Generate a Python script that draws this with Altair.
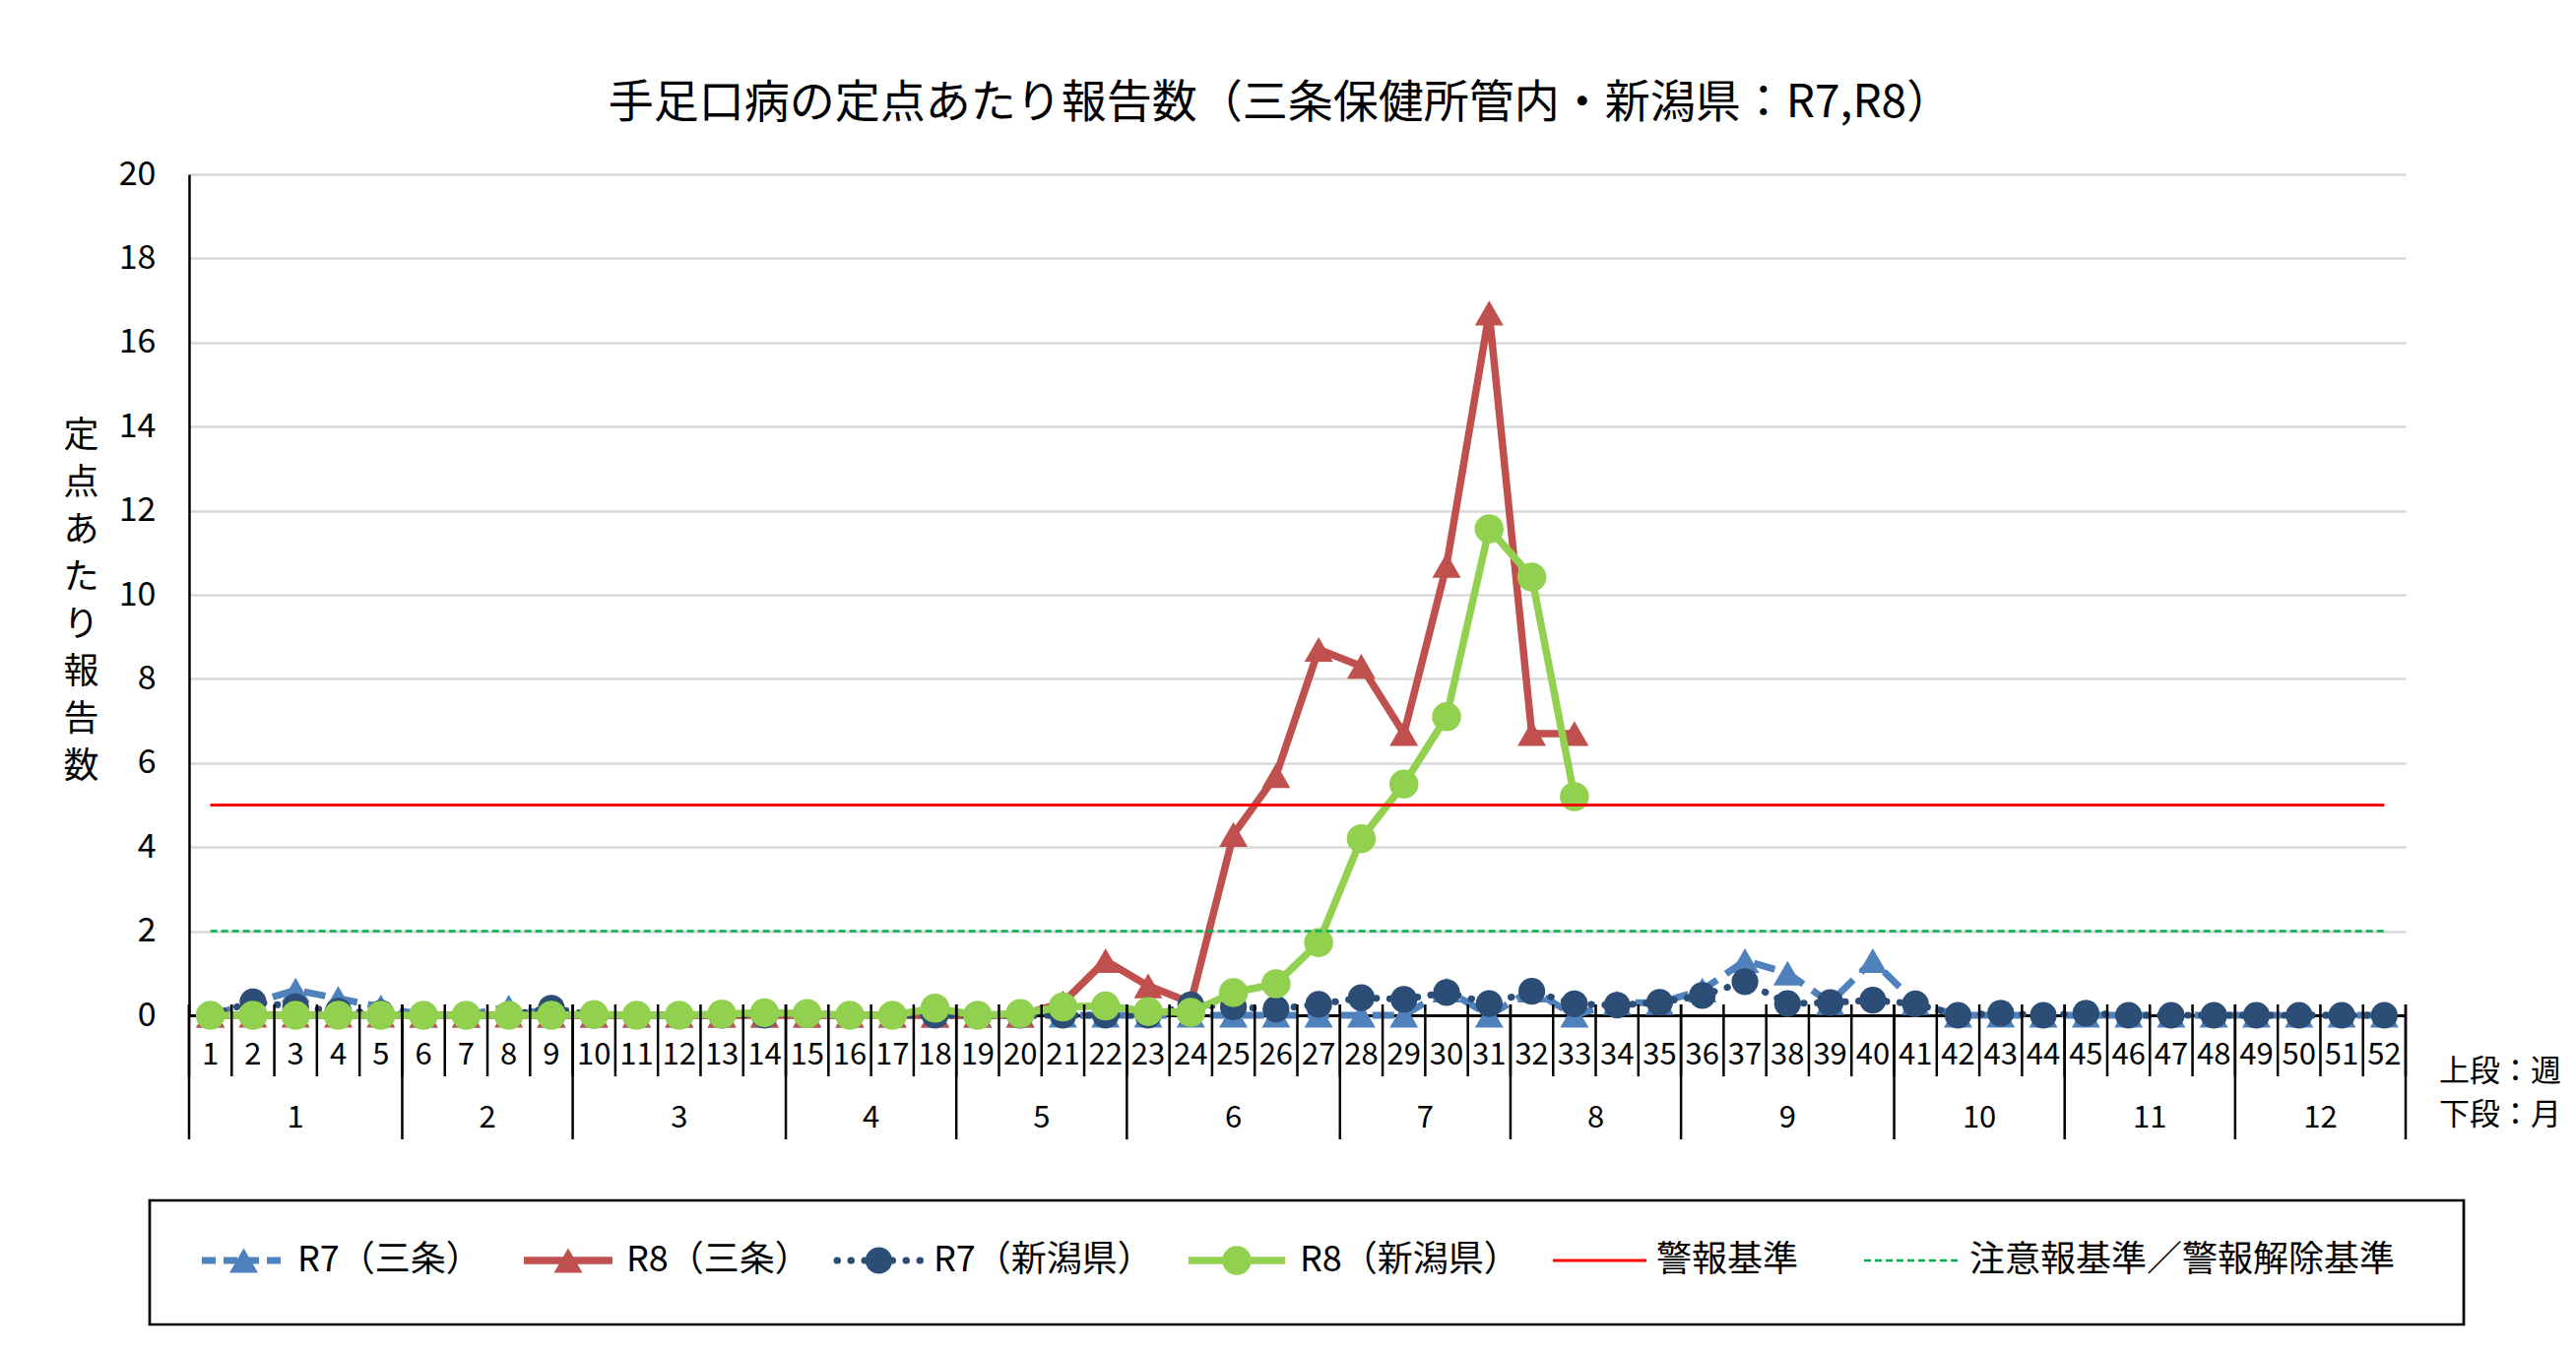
"""
plot.py

Hand, foot and mouth disease: reports per sentinel (Sanjo / Niigata, R7 vs R8).
"""

import pandas as pd
import altair as alt

# ---------------------------------------------------------------------------
# Data
# ---------------------------------------------------------------------------
weeks = list(range(1, 53))
month_labels = [str(m) for m in range(1, 13)]
month_weeks = [5, 4, 5, 4, 4, 5, 4, 4, 5, 4, 4, 4]

r7_sanjo = [0, 0.3, 0.6, 0.4, 0.2, 0, 0, 0.2, 0, 0,
            0, 0, 0, 0, 0, 0, 0, 0, 0, 0,
            0, 0, 0, 0, 0, 0, 0, 0, 0, 0.6,
            0, 0.6, 0, 0.3, 0.3, 0.6, 1.3, 1.0, 0.3, 1.3,
            0.3, 0, 0, 0, 0, 0, 0, 0, 0, 0,
            0, 0]
r8_sanjo = [0, 0, 0, 0, 0, 0, 0, 0, 0, 0,
            0, 0, 0, 0, 0, 0, 0, 0, 0, 0,
            0.3, 1.3, 0.7, 0.3, 4.3, 5.7, 8.7, 8.3, 6.7, 10.7,
            16.7, 6.7, 6.7]
r7_niigata = [0, 0.32, 0.2, 0.1, 0.05, 0, 0, 0, 0.17, 0,
              0, 0, 0, 0, 0.05, 0, 0, 0, 0, 0,
              0, 0, 0, 0.25, 0.2, 0.15, 0.26, 0.42, 0.38, 0.54,
              0.28, 0.57, 0.27, 0.24, 0.31, 0.47, 0.8, 0.28, 0.3, 0.36,
              0.27, 0, 0.05, 0, 0.05, 0, 0, 0, 0, 0,
              0, 0]
r8_niigata = [0, 0, 0, 0, 0, 0, 0, 0, 0, 0.02,
              0, 0, 0.03, 0.06, 0.04, 0, 0, 0.17, 0, 0.04,
              0.2, 0.22, 0.09, 0.07, 0.54, 0.75, 1.73, 4.2, 5.5, 7.1,
              11.57, 10.42, 5.2]
alarm_level = [5] * 52
caution_level = [2] * 52

series_labels = ["R7（三条）", "R8（三条）", "R7（新潟県）", "R8（新潟県）",
                 "警報基準", "注意報基準／警報解除基準"]
title_text = "手足口病の定点あたり報告数（三条保健所管内・新潟県：R7,R8）"
y_title = "定点あたり報告数"
row_labels = ["上段：週", "下段：月"]

# ---------------------------------------------------------------------------
# Layout / style
# ---------------------------------------------------------------------------
FONT = "Noto Sans CJK JP"
PLOT_W, PLOT_H = 2251, 854

C_R7_SANJO = "#4F81BD"
C_R8_SANJO = "#C0504D"
C_R7_NIIGATA = "#2C4D75"
C_R8_NIIGATA = "#92D050"
C_ALARM = "#FF0000"
C_CAUTION = "#00B050"

x_scale = alt.Scale(domain=[0.5, 52.5], nice=False, zero=False)
y_scale = alt.Scale(domain=[0, 20], nice=False)

X = alt.X("week:Q", scale=x_scale,
          axis=alt.Axis(labels=False, ticks=False, grid=False, title=None,
                        domainColor="black", domainWidth=3))
Y = alt.Y("value:Q", scale=y_scale,
          axis=alt.Axis(values=list(range(0, 21, 2)), grid=True,
                        gridColor="#d9d9d9", gridWidth=2.5,
                        domainColor="black", domainWidth=2.5, ticks=False,
                        labelFont=FONT, labelFontSize=34, labelColor="black",
                        labelPadding=34,
                        title=list(y_title), titleAngle=0, titleFont=FONT,
                        titleFontSize=36, titleFontWeight="normal",
                        titleColor="black", titleLineHeight=48,
                        titleAlign="center", titleBaseline="top",
                        titleX=-110, titleY=248))


def series_frame(values):
    return pd.DataFrame({"week": weeks[:len(values)], "value": values})


def build_series(values, colour, width, shape=None, size=0, dash=None, cap="butt"):
    """Line plus markers for one series."""
    df = series_frame(values)
    line_kw = dict(color=colour, strokeWidth=width, strokeCap=cap)
    if dash:
        line_kw["strokeDash"] = dash
    layers = [alt.Chart(df).mark_line(**line_kw).encode(x=X, y=Y)]
    if shape:
        layers.append(
            alt.Chart(df)
            .mark_point(shape=shape, size=size, filled=True, color=colour,
                        opacity=1, strokeWidth=0)
            .encode(x=X, y=Y)
        )
    return layers


# series styles, in the reference's drawing order
styles = [
    dict(values=r7_sanjo, colour=C_R7_SANJO, width=7, shape="triangle-up",
         size=840, dash=[22, 11]),
    dict(values=r8_sanjo, colour=C_R8_SANJO, width=7.5, shape="triangle-up",
         size=840),
    dict(values=r7_niigata, colour=C_R7_NIIGATA, width=7, shape="circle",
         size=740, dash=[0.5, 13.5], cap="round"),
    dict(values=r8_niigata, colour=C_R8_NIIGATA, width=7.5, shape="circle",
         size=870),
    dict(values=alarm_level, colour=C_ALARM, width=3.2),
    dict(values=caution_level, colour=C_CAUTION, width=2.5, dash=[7, 4]),
]

layers = []
for st in styles:
    layers += build_series(**st)

# ---------------------------------------------------------------------------
# Category table under the plot (weeks on top row, months below)
# ---------------------------------------------------------------------------
bounds = [w - 0.5 for w in weeks] + [weeks[-1] + 0.5]
month_bounds = [0.5]
month_centres = []
for n in month_weeks:
    month_centres.append(month_bounds[-1] + n / 2)
    month_bounds.append(month_bounds[-1] + n)

layers.append(
    alt.Chart(pd.DataFrame({"week": bounds}))
    .mark_rule(color="black", strokeWidth=2.5)
    .encode(x=X, y=alt.value(843), y2=alt.value(916))
)
layers.append(
    alt.Chart(pd.DataFrame({"week": month_bounds}))
    .mark_rule(color="black", strokeWidth=2.5)
    .encode(x=X, y=alt.value(843), y2=alt.value(980))
)
layers.append(
    alt.Chart(pd.DataFrame({"week": weeks, "label": [str(w) for w in weeks]}))
    .mark_text(font=FONT, fontSize=31, color="black", baseline="middle")
    .encode(x=X, y=alt.value(895), text="label:N")
)
layers.append(
    alt.Chart(pd.DataFrame({"week": month_centres, "label": month_labels}))
    .mark_text(font=FONT, fontSize=31, color="black", baseline="middle")
    .encode(x=X, y=alt.value(959), text="label:N")
)
for lbl, ypos in zip(row_labels, [912, 956]):
    layers.append(
        alt.Chart(pd.DataFrame({"label": [lbl]}))
        .mark_text(font=FONT, fontSize=31, color="black", align="left",
                   baseline="middle")
        .encode(x=alt.value(2285), y=alt.value(ypos), text="label:N")
    )

# title
layers.append(
    alt.Chart(pd.DataFrame({"label": [title_text]}))
    .mark_text(font=FONT, fontSize=46, color="black", align="center",
               baseline="middle")
    .encode(x=alt.value(1108), y=alt.value(-72), text="label:N")
)

# ---------------------------------------------------------------------------
# Legend box
# ---------------------------------------------------------------------------
LEG_Y = 1103
leg_pos = [(13, 98, 110), (340, 430, 444), (658, 743, 756),
           (1015, 1113, 1128), (1385, 1480, 1490), (1701, 1798, 1808)]

layers.append(
    alt.Chart(pd.DataFrame({"label": ["legend"]}))
    .mark_rect(fill="white", stroke="black", strokeWidth=2.7)
    .encode(x=alt.value(-40), x2=alt.value(2310), y=alt.value(1042),
            y2=alt.value(1168))
)
for st, lbl, (x0, x1, tx) in zip(styles, series_labels, leg_pos):
    one = pd.DataFrame({"label": [lbl]})
    rule_kw = dict(color=st["colour"], strokeWidth=st["width"],
                   strokeCap=st.get("cap", "butt"))
    if st.get("dash"):
        rule_kw["strokeDash"] = st["dash"] if st["width"] < 7 or st.get("cap") else [14, 8]
    layers.append(
        alt.Chart(one).mark_rule(**rule_kw)
        .encode(x=alt.value(x0), x2=alt.value(x1), y=alt.value(LEG_Y))
    )
    if st.get("shape"):
        layers.append(
            alt.Chart(one)
            .mark_point(shape=st["shape"], size=st["size"], filled=True,
                        color=st["colour"], opacity=1, strokeWidth=0)
            .encode(x=alt.value((x0 + x1) / 2), y=alt.value(LEG_Y))
        )
    layers.append(
        alt.Chart(one)
        .mark_text(font=FONT, fontSize=36, color="black", align="left",
                   baseline="middle")
        .encode(x=alt.value(tx), y=alt.value(LEG_Y), text="label:N")
    )

chart = (
    alt.layer(*layers)
    .properties(
        width=PLOT_W,
        height=PLOT_H,
        autosize=alt.AutoSizeParams(type="none"),
        padding={"left": 184, "top": 169, "right": 165, "bottom": 322},
        background="white",
    )
    .configure_view(strokeWidth=0)
)

chart.save("out.html", embed_options={"renderer": "svg", "actions": False})
